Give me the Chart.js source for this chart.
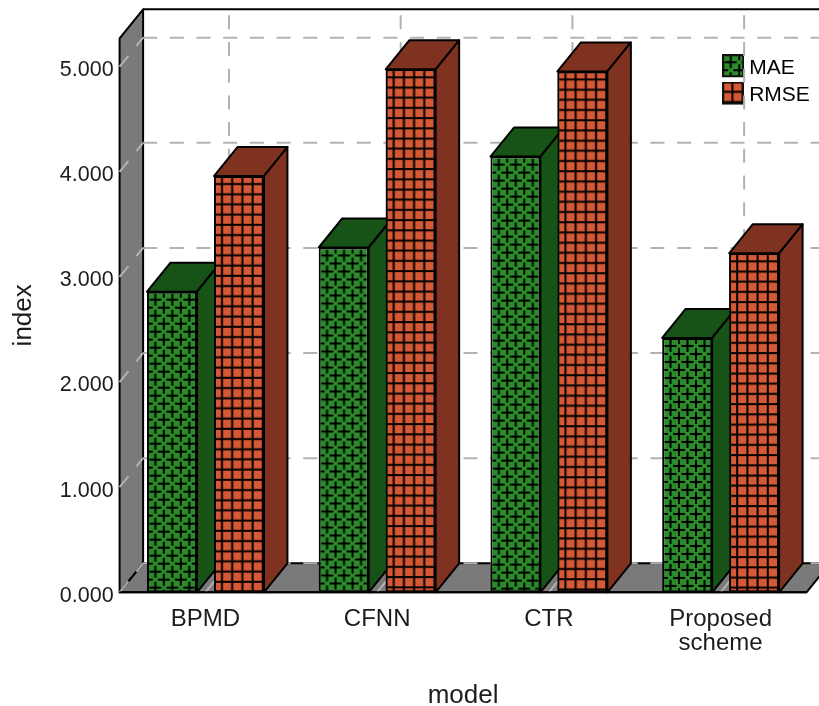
<!DOCTYPE html>
<html>
<head>
<meta charset="utf-8">
<title>MAE and RMSE by model</title>
<script src="https://cdn.jsdelivr.net/npm/chart.js@4/dist/chart.umd.min.js"></script>
<style>
  html, body { margin: 0; padding: 0; background: #fff; }
  canvas { display: block; }
</style>
</head>
<body>
<canvas id="barChart" width="819" height="706"></canvas>
<script>
'use strict';
let categories=['BPMD', 'CFNN', 'CTR', ['Proposed', 'scheme']];
let maeValues=[2.86, 3.28, 4.145, 2.42];
let rmseValues=[3.96, 4.975, 4.955, 3.225];
let tickValues=[0, 1, 2, 3, 4, 5];

// how far the back wall sits behind the front plane
let depthX=23.5;
let depthY=29;

let gridColor='#b2b2b2';
let wallColor='#7a7a7a';
let maeFront='#2b8a29';
let maeDark='#175216';
let rmseFront='#d55934';
let rmseDark='#7f3220';
let fontName='"Liberation Sans", Arial, sans-serif';
let textColor='#1c1c1c';

let canvas=document.getElementById('barChart');
let ctx=canvas.getContext('2d');

function makeTile(w, h, paint){
  let tile=document.createElement('canvas');
  tile.width=w;
  tile.height=h;
  paint(tile.getContext('2d'));
  return tile;
}

// staggered plus signs for MAE
let plusTile=makeTile(17, 16, function(c){
  c.fillStyle=maeFront;
  c.fillRect(0, 0, 17, 16);
  c.strokeStyle='#000';
  c.lineWidth=2;
  [[8.5, 8], [0, 0], [17, 0], [0, 16], [17, 16]].forEach(function(p){
    c.beginPath();
    c.moveTo(p[0]-6, p[1]);
    c.lineTo(p[0]+6, p[1]);
    c.moveTo(p[0], p[1]-6);
    c.lineTo(p[0], p[1]+6);
    c.stroke();
  });
});

// square mesh for RMSE, 5 cells per tile so the pitch can be fractional
let meshTile=makeTile(51, 51, function(c){
  c.fillStyle=rmseFront;
  c.fillRect(0, 0, 51, 51);
  c.strokeStyle='#000';
  c.lineWidth=2;
  for(let i=0;i<=5;i++){
    let p=i*10.2;
    c.beginPath();
    c.moveTo(p, 0);
    c.lineTo(p, 51);
    c.moveTo(0, p);
    c.lineTo(51, p);
    c.stroke();
  }
});

function patternList(tile){
  return categories.map(function(){
    return ctx.createPattern(tile, 'repeat');
  });
}

let maePatterns=patternList(plusTile);
let rmsePatterns=patternList(meshTile);

// legend box; the empty strip underneath lifts it a little above the text centre
function makeSwatch(tile){
  return makeTile(22, 28, function(c){
    c.fillStyle=c.createPattern(tile, 'repeat');
    c.fillRect(0, 0, 22, 23);
    c.strokeStyle='#111';
    c.lineWidth=2;
    c.strokeRect(1, 1, 20, 21);
  });
}

function line(c, points, color, width, dash){
  c.save();
  c.strokeStyle=color;
  c.lineWidth=width;
  c.setLineDash(dash || []);
  c.beginPath();
  points.forEach(function(p, i){
    if(i===0){
      c.moveTo(p[0], p[1]);
    }else{
      c.lineTo(p[0], p[1]);
    }
  });
  c.stroke();
  c.restore();
}

function polygon(c, points, fill){
  c.fillStyle=fill;
  c.beginPath();
  points.forEach(function(p, i){
    if(i===0){
      c.moveTo(p[0], p[1]);
    }else{
      c.lineTo(p[0], p[1]);
    }
  });
  c.closePath();
  c.fill();
  c.strokeStyle='#000';
  c.lineWidth=2;
  c.lineJoin='round';
  c.stroke();
}

// left wall, floor and the gridlines running round them
let wallsPlugin={
  id: 'walls',
  beforeDatasetsDraw(chart){
    let c=chart.ctx;
    let area=chart.chartArea;
    let left=area.left;
    let right=area.right;
    let top=area.top;
    let bottom=area.bottom;
    let dash=[14, 12.7];

    c.save();
    polygon(c, [[left, top], [left+depthX, top-depthY], [left+depthX, bottom-depthY], [left, bottom]], wallColor);
    polygon(c, [[left, bottom], [left+depthX, bottom-depthY], [right+depthX, bottom-depthY], [right, bottom]], wallColor);
    line(c, [[left+depthX, top-depthY], [819, top-depthY]], '#000', 2);

    tickValues.forEach(function(v){
      let y=chart.scales.y.getPixelForValue(v);
      line(c, [[left, y], [left+depthX, y-depthY]], gridColor, 2, dash);
      line(c, [[left+depthX, y-depthY], [819, y-depthY]], gridColor, 2, dash);
    });

    categories.forEach(function(name, i){
      let x=chart.scales.x.getPixelForValue(i);
      line(c, [[x, bottom], [x+depthX, bottom-depthY]], gridColor, 2, dash);
      line(c, [[x+depthX, bottom-depthY], [x+depthX, top-depthY]], gridColor, 2, dash);
    });
    c.restore();
  },
  // front edges go over the feet of the bars
  afterDatasetsDraw(chart){
    let area=chart.chartArea;
    line(chart.ctx, [[area.left, area.bottom], [area.right, area.bottom]], '#000', 2);
  }
};

// top and side faces of each bar, drawn just before the bar's front
let depthPlugin={
  id: 'depth',
  beforeDatasetDraw(chart, args){
    let c=chart.ctx;
    let isMae=args.index===0;
    let dark=isMae ? maeDark : rmseDark;
    let patterns=isMae ? maePatterns : rmsePatterns;
    c.save();
    args.meta.data.forEach(function(bar, i){
      let l=bar.x-bar.width/2;
      let r=bar.x+bar.width/2;
      let t=bar.y;
      let b=bar.base;
      polygon(c, [[l, t], [l+depthX, t-depthY], [r+depthX, t-depthY], [r, t]], dark);
      polygon(c, [[r, t], [r+depthX, t-depthY], [r+depthX, b-depthY], [r, b]], dark);
      // start the fill at the bar's own corner
      let shiftX=isMae ? -0.2 : -2.2;
      let shiftY=isMae ? 0 : -2.2;
      patterns[i].setTransform(new DOMMatrix().translate(l+shiftX, t+shiftY));
    });
    c.restore();
  },
  // MAE is painted last, so put the RMSE fronts back over its side faces
  afterDatasetDraw(chart, args){
    if(args.index===0){
      chart.getDatasetMeta(1).data.forEach(function(bar){
        bar.draw(chart.ctx);
      });
    }
  },
  // legend sits inside the plot, top right
  afterLayout(chart){
    let legend=chart.legend;
    legend.left=721.4;
    legend.right=819;
    legend.top=51.45;
    legend.bottom=125;
  }
};

let whitePlugin={
  id: 'whiteBack',
  beforeDraw(chart){
    chart.ctx.save();
    chart.ctx.fillStyle='#fff';
    chart.ctx.fillRect(0, 0, chart.width, chart.height);
    chart.ctx.restore();
  }
};

let barChart=new Chart(ctx, {
  type: 'bar',
  data: {
    labels: categories,
    datasets: [{
      label: 'MAE',
      data: maeValues,
      backgroundColor: maePatterns,
      borderColor: '#000',
      borderWidth: 2,
      borderSkipped: false
    }, {
      label: 'RMSE',
      data: rmseValues,
      backgroundColor: rmsePatterns,
      borderColor: '#000',
      borderWidth: 2,
      borderSkipped: false
    }]
  },
  plugins: [whitePlugin, wallsPlugin, depthPlugin],
  options: {
    responsive: false,
    animation: false,
    layout: {
      padding: {left: 0, top: 38.3, right: 12.5, bottom: 0}
    },
    datasets: {
      bar: {categoryPercentage: 0.78, barPercentage: 0.746}
    },
    scales: {
      x: {
        grid: {display: false, drawTicks: false},
        border: {display: false},
        ticks: {
          color: textColor,
          font: {family: fontName, size: 24, lineHeight: 1},
          padding: 15,
          maxRotation: 0,
          autoSkip: false
        },
        title: {
          display: true,
          text: 'model',
          color: textColor,
          font: {family: fontName, size: 26, lineHeight: 0.8},
          padding: 0
        },
        afterFit(scale){
          scale.height=113.7;
        }
      },
      y: {
        min: 0,
        max: 5.27,
        grid: {display: false, drawTicks: false},
        border: {display: false},
        ticks: {
          stepSize: 1,
          includeBounds: false,
          color: textColor,
          font: {family: fontName, size: 21.5},
          padding: 6,
          labelOffset: 3.5,
          callback: function(value){
            return value.toFixed(3);
          }
        },
        title: {
          display: true,
          text: 'index',
          color: textColor,
          font: {family: fontName, size: 26},
          padding: {top: 8, bottom: 0}
        },
        afterFit(scale){
          scale.width=119.6;
        }
      }
    },
    plugins: {
      tooltip: {enabled: false},
      legend: {
        position: 'chartArea',
        align: 'start',
        labels: {
          color: textColor,
          font: {family: fontName, size: 21},
          padding: 6.3,
          usePointStyle: true,
          pointStyleWidth: 11,
          boxHeight: 23,
          generateLabels(chart){
            return [
              {text: 'MAE', pointStyle: makeSwatch(plusTile), lineWidth: 0, hidden: false, datasetIndex: 0},
              {text: 'RMSE', pointStyle: makeSwatch(meshTile), lineWidth: 0, hidden: false, datasetIndex: 1}
            ];
          }
        }
      }
    }
  }
});
console.log(barChart.chartArea);
</script>
</body>
</html>
